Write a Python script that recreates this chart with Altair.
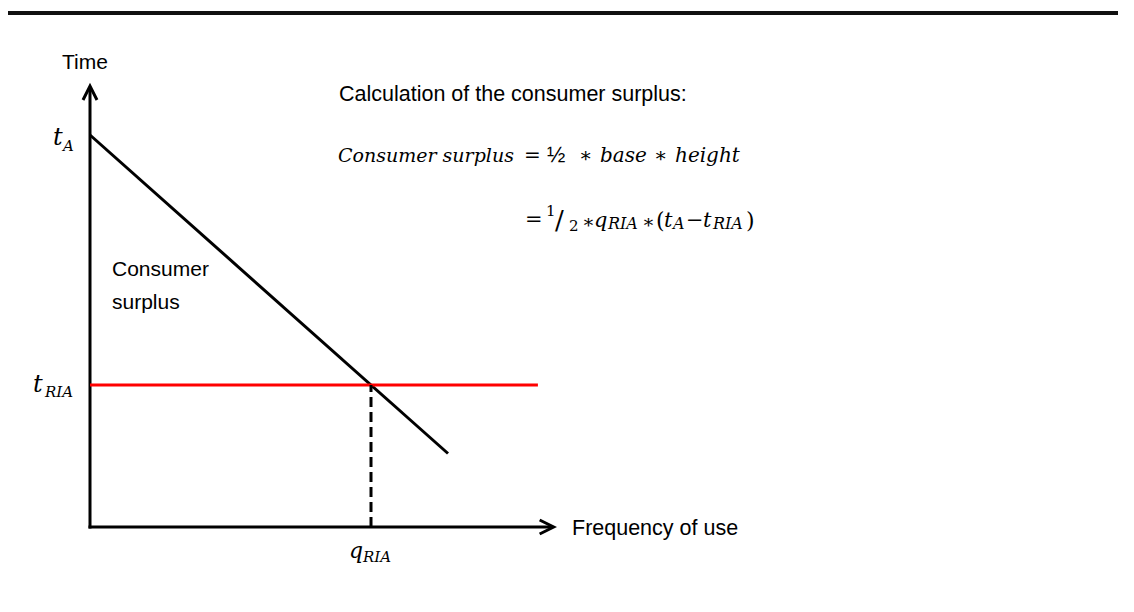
import altair as alt
import pandas as pd

# ---------------- diagram values (model units) ----------------
T_A = 8.0            # t_A : time at zero frequency (demand intercept)
T_RIA = 2.9          # t_RIA : time with RIA
Q_RIA = 5.0          # q_RIA : frequency of use at t_RIA
DEMAND_END = [6.37, 1.5]   # end point of the demand line (q, t)
RED_END_Q = 7.97     # end of the t_RIA line
X_AXIS_END = 8.25    # arrow tip of frequency axis
Y_AXIS_END = 9.0     # arrow tip of time axis
TOP_RULE_T = 10.49   # position of the slide's top rule

# ---------------- layout ----------------
W, H = 1110, 580
PX_X, PX_Y = 56.2, 49.0      # pixels per unit
OX, OY = 82, 519             # canvas pixel of the origin
x_dom = [-OX / PX_X, (W - OX) / PX_X]
y_dom = [-(H - OY) / PX_Y, OY / PX_Y]
xs = alt.Scale(domain=x_dom, nice=False, zero=False)
ys = alt.Scale(domain=y_dom, nice=False, zero=False)


def u(px):   # page x pixel -> model unit (for annotation placement)
    return (px - 8 - OX) / PX_X


def v(py):   # page y pixel -> model unit
    return (OY + 8 - py) / PX_Y


X = lambda f="x": alt.X(f"{f}:Q", scale=xs, axis=None)
Y = lambda f="y": alt.Y(f"{f}:Q", scale=ys, axis=None)

layers = []

# top rule of the slide
layers.append(
    alt.Chart(pd.DataFrame({"x": [x_dom[0]], "x2": [x_dom[1]], "y": [TOP_RULE_T]}))
    .mark_rule(color="#111111", strokeWidth=4)
    .encode(x=X(), x2="x2:Q", y=Y())
)

# axes
axes_df = pd.DataFrame({
    "x": [0.0, 0.0], "x2": [0.0, X_AXIS_END - 0.05],
    "y": [0.0, 0.0], "y2": [Y_AXIS_END - 0.05, 0.0],
})
layers.append(
    alt.Chart(axes_df)
    .mark_rule(color="black", strokeWidth=3, strokeCap="square")
    .encode(x=X(), x2="x2:Q", y=Y(), y2="y2:Q")
)

# arrow heads
chevron = "M -0.5 1 L 0 0 L 0.5 1"
layers.append(
    alt.Chart(pd.DataFrame({"x": [0.0], "y": [Y_AXIS_END]}))
    .mark_point(shape=chevron, filled=False, color="black", strokeWidth=3,
                size=784, opacity=1, strokeJoin="miter")
    .encode(x=X(), y=Y())
)
layers.append(
    alt.Chart(pd.DataFrame({"x": [X_AXIS_END], "y": [0.0]}))
    .mark_point(shape=chevron, filled=False, color="black", strokeWidth=3,
                size=784, opacity=1, angle=90, strokeJoin="miter")
    .encode(x=X(), y=Y())
)

# demand line
layers.append(
    alt.Chart(pd.DataFrame({"x": [0.0], "y": [T_A], "x2": [DEMAND_END[0]], "y2": [DEMAND_END[1]]}))
    .mark_rule(color="black", strokeWidth=3)
    .encode(x=X(), y=Y(), x2="x2:Q", y2="y2:Q")
)

# t_RIA line (red)
layers.append(
    alt.Chart(pd.DataFrame({"x": [0.0], "x2": [RED_END_Q], "y": [T_RIA]}))
    .mark_rule(color="#ff0000", strokeWidth=3)
    .encode(x=X(), x2="x2:Q", y=Y())
)

# dashed drop line at q_RIA
layers.append(
    alt.Chart(pd.DataFrame({"x": [Q_RIA], "y": [0.0], "y2": [T_RIA]}))
    .mark_rule(color="black", strokeWidth=3, strokeDash=[10, 5])
    .encode(x=X(), y=Y(), y2="y2:Q")
)

# ---------------- text ----------------
SANS = "Liberation Sans"
SERIF = "DejaVu Serif"

# (text, page x, page y, size, font, style, baseline)
labels = [
    ("Time", 62, 63, 21, SANS, "normal", "middle"),
    ("Calculation of the consumer surplus:", 339, 95, 21.5, SANS, "normal", "middle"),
    ("Consumer", 112, 270, 21, SANS, "normal", "middle"),
    ("surplus", 112, 303, 21, SANS, "normal", "middle"),
    ("Frequency of use", 572, 529, 21.5, SANS, "normal", "middle"),
    # axis symbols
    ("t", 53, 145, 24, SERIF, "italic", "alphabetic"),
    ("A", 63, 151, 15, SERIF, "italic", "alphabetic"),
    ("t", 33, 392, 24, SERIF, "italic", "alphabetic"),
    ("RIA", 45, 397, 15, SERIF, "italic", "alphabetic"),
    ("q", 349, 558, 22, SERIF, "italic", "alphabetic"),
    ("RIA", 363, 562, 15, SERIF, "italic", "alphabetic"),
    # formula line 1
    ("Consumer surplus", 338, 162, 19, SERIF, "italic", "alphabetic"),
    ("=", 524, 162, 20, SERIF, "normal", "alphabetic"),
    ("½", 547, 162, 22, SANS, "normal", "alphabetic"),
    ("∗", 579, 162, 20, SERIF, "normal", "alphabetic"),
    ("base", 600, 162, 20, SERIF, "italic", "alphabetic"),
    ("∗", 654, 162, 20, SERIF, "normal", "alphabetic"),
    ("height", 675, 162, 20, SERIF, "italic", "alphabetic"),
    # formula line 2
    ("=", 525, 226, 21, SERIF, "normal", "alphabetic"),
    ("1", 546, 216, 15, SERIF, "normal", "alphabetic"),
    ("/", 555, 229, 26, SERIF, "normal", "alphabetic"),
    ("2", 569, 231, 15, SERIF, "normal", "alphabetic"),
    ("∗", 582, 228, 19, SERIF, "normal", "alphabetic"),
    ("q", 594, 227, 21, SERIF, "italic", "alphabetic"),
    ("RIA", 608, 229, 16, SERIF, "italic", "alphabetic"),
    ("∗", 642, 228, 19, SERIF, "normal", "alphabetic"),
    ("(", 656, 228, 22, SERIF, "normal", "alphabetic"),
    ("t", 664, 227, 21, SERIF, "italic", "alphabetic"),
    ("A", 673, 229, 16, SERIF, "italic", "alphabetic"),
    ("−", 686, 227, 21, SERIF, "normal", "alphabetic"),
    ("t", 703, 227, 21, SERIF, "italic", "alphabetic"),
    ("RIA", 713, 229, 16, SERIF, "italic", "alphabetic"),
    (")", 746, 228, 22, SERIF, "normal", "alphabetic"),
]

for text, px, py, size, font, style, base in labels:
    layers.append(
        alt.Chart(pd.DataFrame({"x": [u(px)], "y": [v(py)], "t": [text]}))
        .mark_text(font=font, fontSize=size, fontStyle=style, align="left",
                   baseline=base, color="black")
        .encode(x=X(), y=Y(), text="t:N")
    )

chart = (
    alt.layer(*layers)
    .properties(width=W, height=H, padding=0,
                autosize=alt.AutoSizeParams(type="none"))
    .configure_view(stroke=None)
)

chart.save("out.html", embed_options={"renderer": "svg", "actions": False})
